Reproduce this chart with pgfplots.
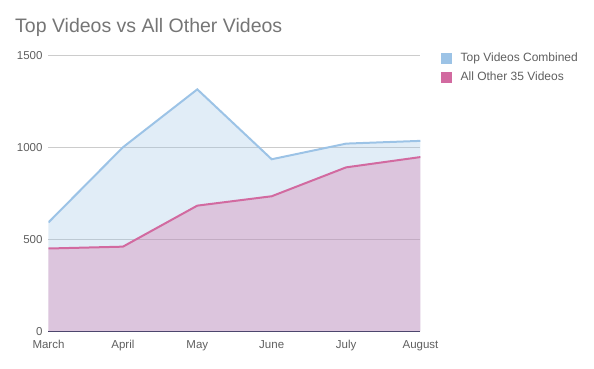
\documentclass[border=0pt]{standalone}
\usepackage{pgfplots}
\pgfplotsset{compat=1.18}
\usepackage{fontspec}
\setmainfont{Liberation Sans}
\definecolor{topblue}{HTML}{9CC3E6}
\definecolor{otherpink}{HTML}{D26AA0}
\definecolor{txt}{HTML}{757575}
\definecolor{ticktxt}{HTML}{5F5F5F}
\definecolor{gridc}{HTML}{CCCCCC}
\begin{document}
\begin{tikzpicture}
\begin{axis}[
  at={(0pt,0pt)}, anchor=south west,
  scale only axis, width=372pt, height=276pt,
  xmin=0, xmax=5, ymin=0, ymax=1500,
  xtick={0,1,2,3,4,5},
  xticklabels={March,April,May,June,July,August},
  ytick={0,500,1000,1500},
  axis lines*=left,
  x axis line style={draw=black!75!blue!60!gray, line width=0.8pt},
  y axis line style={draw=none},
  major tick length=0pt,
  ymajorgrids, grid style={gridc, line width=0.6pt},
  /pgf/number format/assume math mode=true,
  /pgf/number format/1000 sep={},
  tick label style={font=\fontsize{11.5}{13}\selectfont, text=ticktxt},
  xticklabel style={anchor=base, yshift=-17.5pt},
  yticklabel style={anchor=east, xshift=-2.5pt},
  legend style={at={(rel axis cs:1.055,1.016)}, anchor=north west, draw=none,
    font=\fontsize{12}{14}\selectfont, text=ticktxt, inner sep=0pt,
    row sep=5pt, /tikz/every even column/.append style={column sep=0pt}},
  legend cell align=left,
  legend image code/.code={\fill[#1, draw=none] (0pt,-5.5pt) rectangle (11pt,5.5pt);},
]
\addplot[draw=none, fill=topblue, fill opacity=0.3, forget plot] coordinates {
  (0,592) (1,1000) (2,1315) (3,935) (4,1020) (5,1035)} \closedcycle;
\addplot[draw=none, fill=otherpink, fill opacity=0.3, forget plot] coordinates {
  (0,450) (1,460) (2,683) (3,734) (4,891) (5,947)} \closedcycle;
\addplot[topblue, line width=2pt, forget plot] coordinates {
  (0,592) (1,1000) (2,1315) (3,935) (4,1020) (5,1035)};
\addplot[otherpink, line width=2pt, forget plot] coordinates {
  (0,450) (1,460) (2,683) (3,734) (4,891) (5,947)};
\addlegendimage{fill=topblue, draw=none}
\addlegendentry{\hspace{6.5pt}Top Videos Combined}
\addlegendimage{fill=otherpink, draw=none}
\addlegendentry{\hspace{6.5pt}All Other 35 Videos}
\end{axis}
\node[anchor=base west, inner sep=0pt, text=txt, font=\fontsize{19.5}{22}\selectfont]
  at (-33.5pt,299.3pt) {Top Videos vs All Other Videos};
\pgfresetboundingbox
\path (-48.5pt,-36.7pt) rectangle (545.5pt,331.3pt);
\end{tikzpicture}
\end{document}
